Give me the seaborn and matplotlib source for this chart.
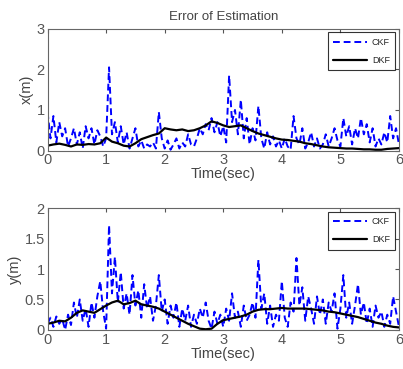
import numpy as np
import pandas as pd
import seaborn as sns
import matplotlib
matplotlib.use('Agg')
import matplotlib.pyplot as plt

# time axes
t_ckf = np.round(np.arange(0, 6.001, 0.05), 2)
t_dkf = np.round(np.arange(0, 6.001, 0.1), 1)

# x error
x_ckf = [0.95, 0.30, 0.85, 0.20, 0.70, 0.35, 0.55, 0.10, 0.30, 0.55,
         0.15, 0.45, 0.05, 0.60, 0.30, 0.55, 0.15, 0.50, 0.35, 0.10,
         0.30, 2.05, 0.40, 0.70, 0.20, 0.60, 0.15, 0.45, 0.05, 0.30,
         0.55, 0.10, 0.25, 0.05, 0.15, 0.10, 0.20, 0.05, 0.95, 0.30,
         0.05, 0.25, 0.02, 0.15, 0.30, 0.05, 0.20, 0.10, 0.40, 0.15,
         0.10, 0.30, 0.55, 0.40, 0.65, 0.50, 0.80, 0.45, 0.70, 0.35,
         0.60, 0.20, 1.85, 0.70, 1.00, 0.40, 1.25, 0.30, 0.80, 0.15,
         0.55, 0.25, 1.10, 0.30, 0.05, 0.45, 0.15, 0.35, 0.10, 0.25,
         0.05, 0.30, 0.10, 0.02, 0.85, 0.30, 0.15, 0.55, 0.05, 0.20,
         0.45, 0.10, 0.30, 0.05, 0.15, 0.40, 0.10, 0.30, 0.55, 0.25,
         0.10, 0.80, 0.35, 0.60, 0.15, 0.55, 0.30, 0.80, 0.40, 0.65,
         0.20, 0.55, 0.10, 0.30, 0.15, 0.45, 0.20, 0.85, 0.30, 0.55,
         0.15]
x_dkf = [0.12, 0.15, 0.17, 0.14, 0.10, 0.15, 0.14, 0.16, 0.15, 0.18,
         0.32, 0.22, 0.18, 0.12, 0.10, 0.18, 0.28, 0.33, 0.38, 0.42,
         0.55, 0.52, 0.50, 0.52, 0.48, 0.50, 0.55, 0.62, 0.72, 0.68,
         0.62, 0.58, 0.60, 0.62, 0.55, 0.48, 0.42, 0.38, 0.34, 0.30,
         0.27, 0.26, 0.24, 0.22, 0.18, 0.16, 0.13, 0.10, 0.08, 0.07,
         0.06, 0.05, 0.05, 0.04, 0.03, 0.03, 0.02, 0.02, 0.04, 0.05,
         0.06]

# y error
y_ckf = [0.10, 0.20, 0.05, 0.22, 0.10, 0.18, 0.00, 0.25, 0.08, 0.45,
         0.20, 0.50, 0.15, 0.35, 0.05, 0.45, 0.20, 0.55, 0.80, 0.30,
         0.02, 1.72, 0.60, 1.20, 0.45, 0.95, 0.35, 0.60, 0.25, 0.90,
         0.40, 0.65, 0.20, 0.75, 0.35, 0.55, 0.15, 0.40, 0.90, 0.30,
         0.50, 0.10, 0.40, 0.20, 0.45, 0.05, 0.35, 0.15, 0.40, 0.05,
         0.25, 0.10, 0.35, 0.20, 0.45, 0.15, 0.02, 0.30, 0.10, 0.25,
         0.05, 0.35, 0.15, 0.60, 0.20, 0.30, 0.05, 0.40, 0.15, 0.25,
         0.45, 0.20, 1.15, 0.35, 0.60, 0.10, 0.40, 0.05, 0.25, 0.15,
         0.80, 0.20, 0.05, 0.45, 0.30, 1.18, 0.40, 0.70, 0.15, 0.55,
         0.35, 0.10, 0.55, 0.25, 0.50, 0.10, 0.45, 0.30, 0.60, 0.02,
         0.35, 0.90, 0.20, 0.45, 0.10, 0.40, 0.75, 0.25, 0.45, 0.10,
         0.35, 0.05, 0.40, 0.20, 0.30, 0.05, 0.25, 0.10, 0.55, 0.30,
         0.05]
y_dkf = [0.10, 0.12, 0.15, 0.14, 0.20, 0.28, 0.32, 0.30, 0.28, 0.34,
         0.40, 0.45, 0.48, 0.42, 0.44, 0.48, 0.42, 0.40, 0.38, 0.35,
         0.30, 0.25, 0.20, 0.15, 0.10, 0.06, 0.02, 0.01, 0.02, 0.10,
         0.16, 0.18, 0.20, 0.22, 0.25, 0.30, 0.33, 0.34, 0.34, 0.35,
         0.36, 0.35, 0.35, 0.35, 0.35, 0.34, 0.33, 0.32, 0.30, 0.29,
         0.27, 0.25, 0.23, 0.21, 0.18, 0.15, 0.12, 0.10, 0.07, 0.05,
         0.04]

sns.set_style('white')
plt.rcParams['font.family'] = ['Liberation Sans', 'DejaVu Sans']

fig = plt.figure(figsize=(4.03, 3.69), dpi=100)
ax1 = fig.add_axes([0.118, 0.592, 0.872, 0.330])
ax2 = fig.add_axes([0.118, 0.106, 0.872, 0.330])

panels = [
    (ax1, x_ckf, x_dkf, 'x(m)', [0, 3], [0, 1, 2, 3], ['0', '1', '2', '3']),
    (ax2, y_ckf, y_dkf, 'y(m)', [0, 2], [0, 0.5, 1, 1.5, 2], ['0', '0.5', '1', '1.5', '2']),
]

for ax, ckf, dkf, ylab, ylim, yt, ytl in panels:
    sns.lineplot(x=t_ckf, y=ckf, ax=ax, color='#0000ff', linestyle=(0, (3.5, 2)),
                 linewidth=1.4, label='CKF')
    sns.lineplot(x=t_dkf, y=dkf, ax=ax, color='black', linewidth=1.6,
                 label='DKF')
    ax.set_xlim(0, 6)
    ax.set_ylim(*ylim)
    ax.set_xticks(range(7))
    ax.set_yticks(yt)
    ax.set_yticklabels(ytl)
    ax.set_xlabel('Time(sec)', fontsize=10.5, color='#444444', labelpad=0)
    ax.set_ylabel(ylab, fontsize=10.5, color='#444444', labelpad=2)
    ax.tick_params(direction='in', top=True, right=True, length=3,
                   labelsize=10.5, labelcolor='#555555', color='#555555', pad=2)
    for s in ax.spines.values():
        s.set_color('#666666')
        s.set_linewidth(0.8)
    leg = ax.legend(loc='upper right', fontsize=6.5, frameon=True, fancybox=False,
                    edgecolor='black', handlelength=3.8, borderaxespad=0.4,
                    labelspacing=1.0, borderpad=0.6, handletextpad=0.5)
    leg.get_frame().set_linewidth(0.8)

ax1.set_title('Error of Estimation', fontsize=9.5, color='#444444', pad=6)

fig.savefig('out.png', dpi=100)
